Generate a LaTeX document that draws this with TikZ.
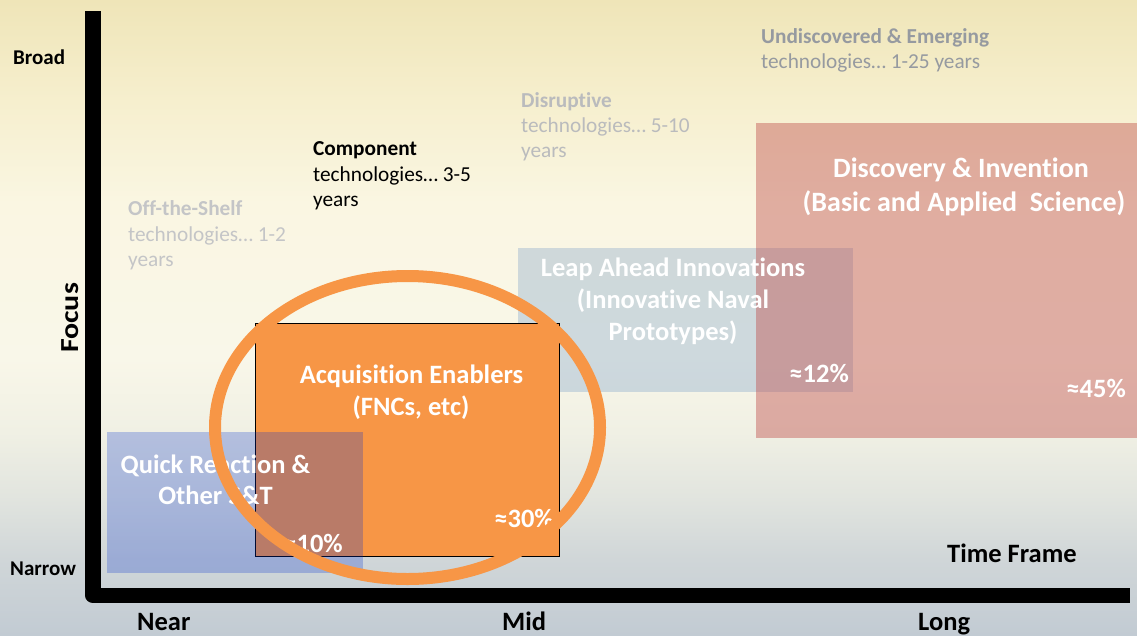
\documentclass[tikz,border=0pt]{standalone}
\usepackage{fontspec}
\setmainfont[Ligatures={NoCommon}]{Carlito}
\definecolor{bgA}{RGB}{194,203,211}
\definecolor{bgB}{RGB}{208,214,216}
\definecolor{bgC}{RGB}{226,229,223}
\definecolor{bgD}{RGB}{240,240,228}
\definecolor{bgE}{RGB}{249,247,233}
\definecolor{bgF}{RGB}{250,246,226}
\definecolor{bgG}{RGB}{246,239,206}
\definecolor{bgH}{RGB}{239,229,184}
\definecolor{acqorange}{RGB}{247,150,70}
\definecolor{leapblue}{RGB}{79,129,189}
\definecolor{discred}{RGB}{192,80,77}
\definecolor{qrblue}{RGB}{0,46,206}
\definecolor{offgray}{RGB}{196,197,199}
\definecolor{disgray}{RGB}{186,187,189}
\definecolor{undgray}{RGB}{150,154,160}
\pgfdeclareverticalshading{bgshade}{100bp}{color(0bp)=(bgA); color(25bp)=(bgA); color(31bp)=(bgB); color(36bp)=(bgC); color(41bp)=(bgD); color(47bp)=(bgE); color(59bp)=(bgF); color(67bp)=(bgG); color(75bp)=(bgH); color(100bp)=(bgH)}
\tikzset{
  graytext/.style={inner sep=0pt, anchor=base west, font=\fontsize{21.3}{25}\selectfont},
  grayhead/.style={graytext, font=\bfseries\fontsize{21.3}{25}\selectfont},
  axlabel/.style={inner sep=0pt, anchor=base west, font=\bfseries\fontsize{21}{25}\selectfont},
  bigaxlabel/.style={inner sep=0pt, anchor=base west, font=\bfseries\fontsize{26.5}{30}\selectfont},
  boxtext/.style={inner sep=0pt, anchor=base, text=white, font=\bfseries\fontsize{26.5}{30}\selectfont},
  disctext/.style={boxtext, font=\bfseries\fontsize{28}{32}\selectfont},
  pcttext/.style={inner sep=0pt, anchor=base east, text=white, font=\bfseries\fontsize{26.5}{30}\selectfont},
  areabox/.style={draw=none},
}
\begin{document}
\begin{tikzpicture}[x=1pt,y=-1pt]
\useasboundingbox (0,0) rectangle (1137,635);
% background
\shade[shading=bgshade] (0,0) rectangle (1137,635);
% areas
\fill[areabox, leapblue, fill opacity=0.25] (518,248) rectangle (853,392);
\fill[areabox, discred, fill opacity=0.44] (756,123) rectangle (1137,438);
\path[fill=acqorange, draw=black, line width=0.8pt] (255,323) rectangle (559,556);
\fill[areabox, qrblue, fill opacity=0.25] (107,432) rectangle (363,573);
% axes
\draw[line width=15.5pt, line join=round] (93,11) -- (93,595.5) -- (1130,595.5);
% axis labels
\node[axlabel] (broad) at (13,64) {Broad};
\node[axlabel] (narrow) at (10,575) {Narrow};
\node[inner sep=0pt, anchor=base, rotate=90, font=\bfseries\fontsize{26}{30}\selectfont] (focus) at (78,318) {\scalebox{1.15}[1]{Focus}};
\node[bigaxlabel] (timeframe) at (947,562) {Time Frame};
\node[bigaxlabel] (near) at (137,630) {Near};
\node[bigaxlabel] (mid) at (502,630) {Mid};
\node[bigaxlabel] (long) at (918,630) {Long};
% technology category labels
\node[grayhead, text=offgray] (off1) at (128,215) {Off-the-Shelf};
\node[graytext, text=offgray] (off2) at (128,241) {technologies… 1-2};
\node[graytext, text=offgray] (off3) at (128,266) {years};
\node[grayhead, text=black] (comp1) at (313,155) {Component};
\node[graytext, text=black] (comp2) at (313,181) {technologies… 3-5};
\node[graytext, text=black] (comp3) at (313,206) {years};
\node[grayhead, text=disgray] (dis1) at (521,107) {Disruptive};
\node[graytext, text=disgray] (dis2) at (521,132) {technologies… 5-10};
\node[graytext, text=disgray] (dis3) at (521,157) {years};
\node[grayhead, text=undgray] (und1) at (761,43) {Undiscovered \& Emerging};
\node[graytext, text=undgray] (und2) at (761,68) {technologies… 1-25 years};
% box texts
\node[boxtext] (acq1) at (411.5,383) {Acquisition Enablers};
\node[boxtext] (acq2) at (411,415) {(FNCs, etc)};
\node[pcttext] (p30) at (554,527) {≈30\%};
\node[boxtext] (qr1) at (215.5,473) {Quick Reaction \&};
\node[boxtext] (qr2) at (215.5,504) {Other S\&T};
\node[pcttext] (p10) at (343,552) {≈10\%};
\node[boxtext] (leap1) at (673,276) {Leap Ahead Innovations};
\node[boxtext] (leap2) at (673,308) {(Innovative Naval};
\node[boxtext] (leap3) at (673,340) {Prototypes)};
\node[pcttext] (p12) at (849,382) {≈12\%};
\node[disctext] (disc1) at (961,177) {Discovery \& Invention};
\node[disctext] (disc2) at (964,211) {(Basic and Applied\ \ Science)};
\node[pcttext] (p45) at (1126,397) {≈45\%};
% highlight ellipse
\draw[acqorange, line width=12pt] (407.5,427.5) ellipse [x radius=192.5, y radius=151.5];
\end{tikzpicture}
\end{document}
